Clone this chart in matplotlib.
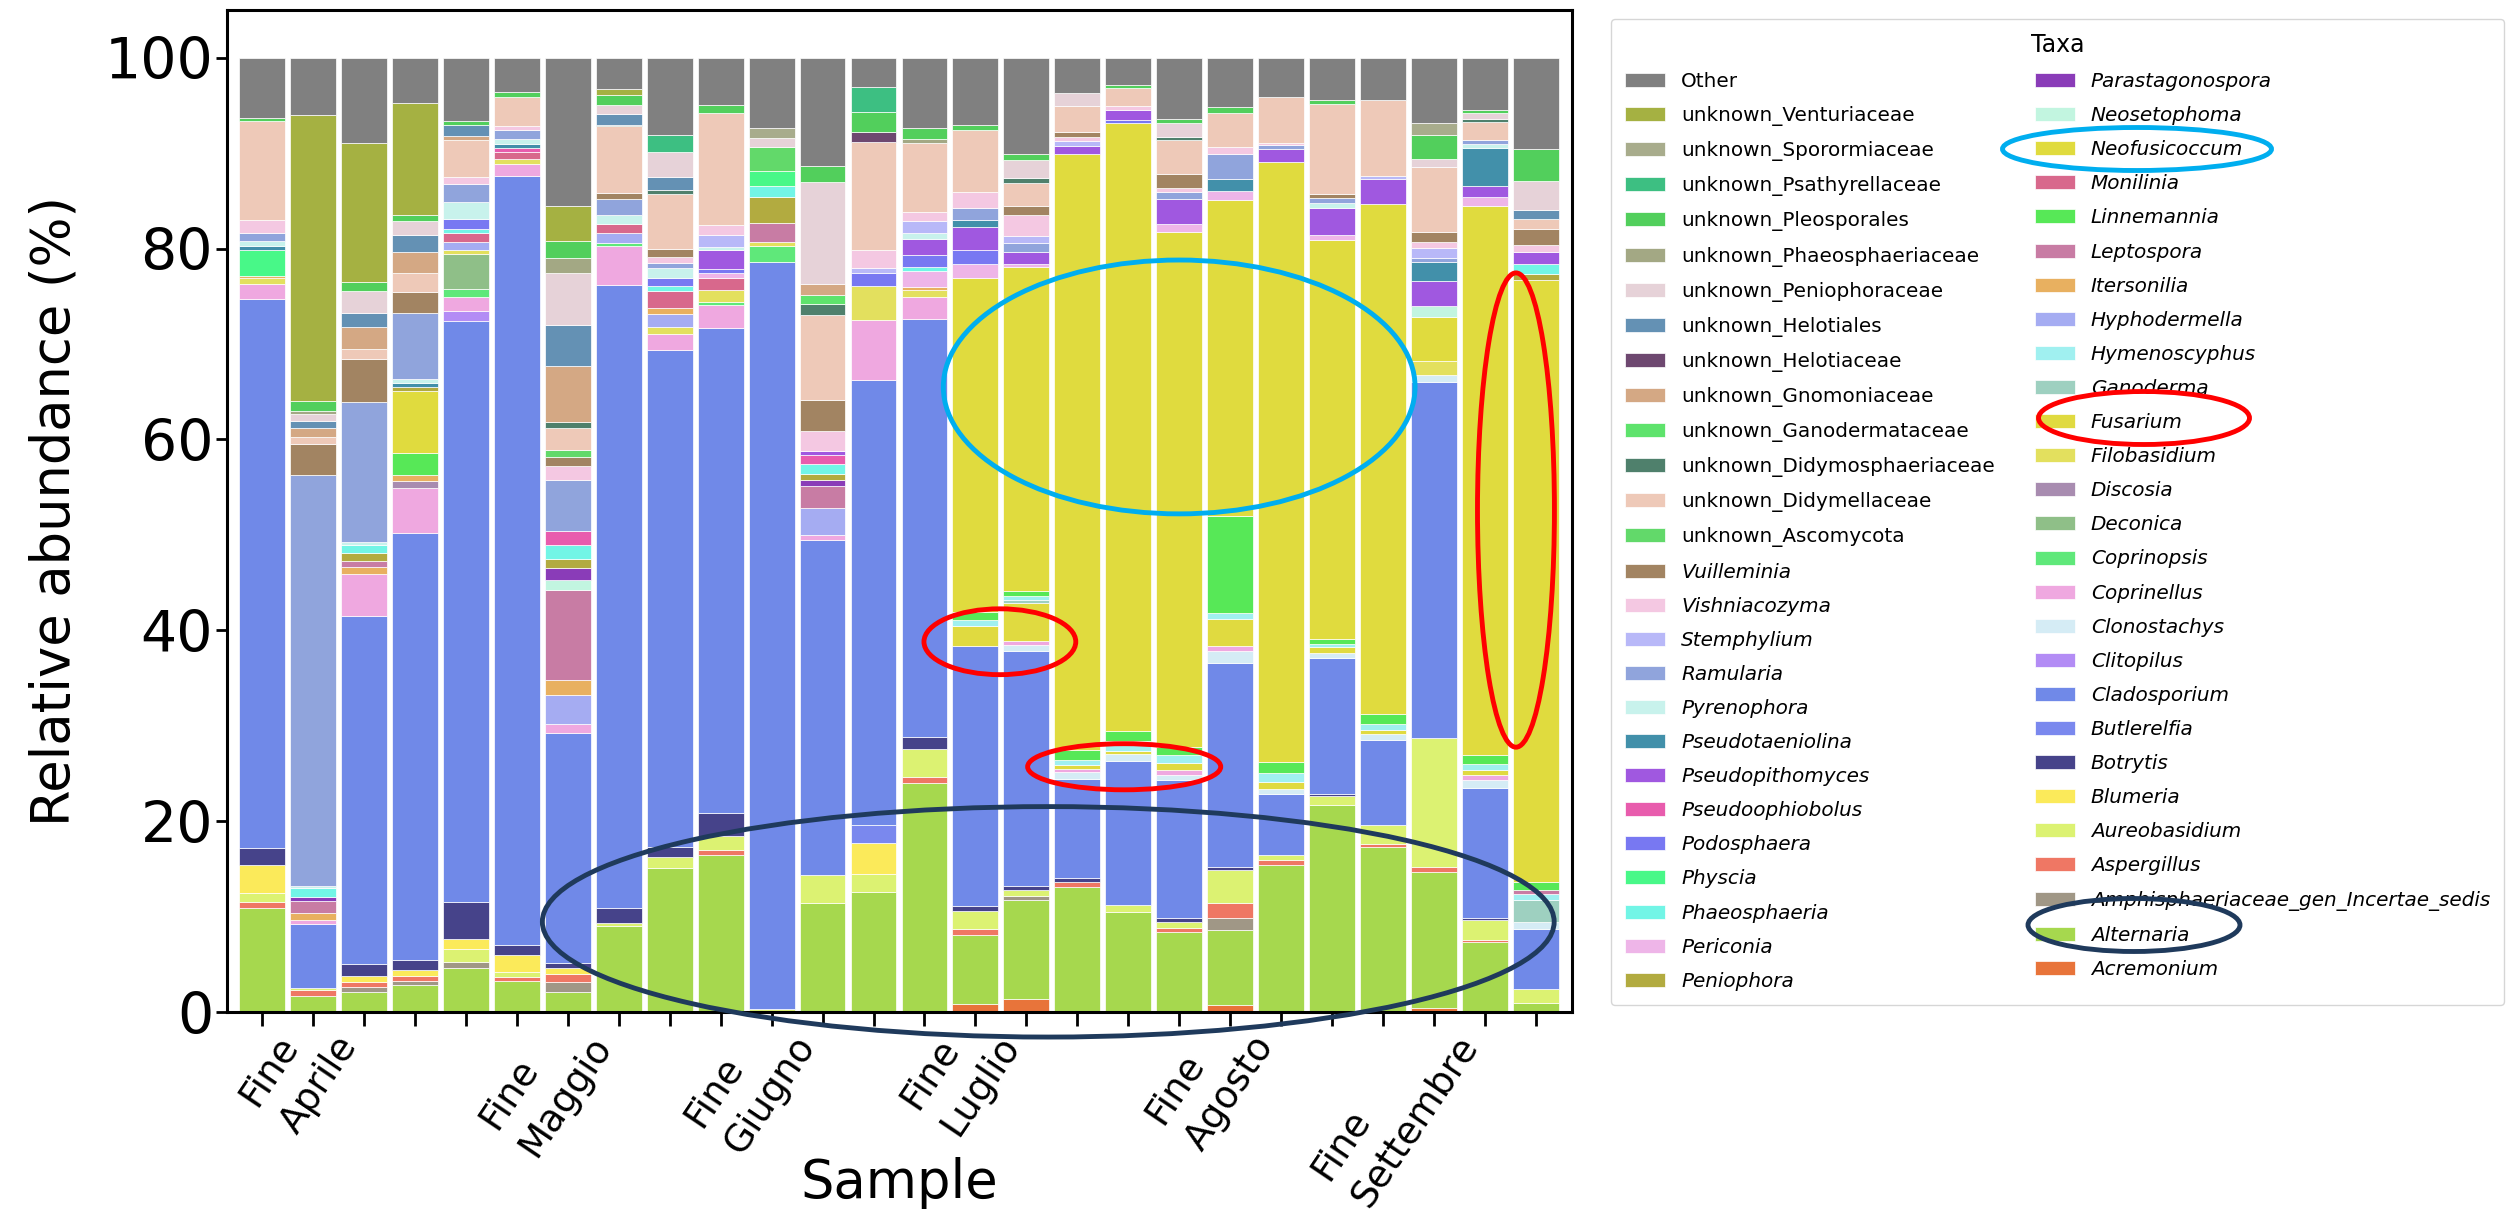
import matplotlib
matplotlib.use("Agg")
import matplotlib.pyplot as plt
from matplotlib.patches import Ellipse
from matplotlib.transforms import ScaledTranslation
import numpy as np
import pandas as pd

# stacking order, bottom -> top (legend shows it reversed)
taxa = ["Acremonium", "Alternaria", "Amphisphaeriaceae_gen_Incertae_sedis", "Aspergillus",
        "Aureobasidium", "Blumeria", "Botrytis", "Butlerelfia", "Cladosporium", "Clitopilus",
        "Clonostachys", "Coprinellus", "Coprinopsis", "Deconica", "Discosia", "Filobasidium",
        "Fusarium", "Ganoderma", "Hymenoscyphus", "Hyphodermella", "Itersonilia", "Leptospora",
        "Linnemannia", "Monilinia", "Neofusicoccum", "Neosetophoma", "Parastagonospora",
        "Peniophora", "Periconia", "Phaeosphaeria", "Physcia", "Podosphaera", "Pseudoophiobolus",
        "Pseudopithomyces", "Pseudotaeniolina", "Pyrenophora", "Ramularia", "Stemphylium",
        "Vishniacozyma", "Vuilleminia", "unknown_Ascomycota", "unknown_Didymellaceae",
        "unknown_Didymosphaeriaceae", "unknown_Ganodermataceae", "unknown_Gnomoniaceae",
        "unknown_Helotiaceae", "unknown_Helotiales", "unknown_Peniophoraceae",
        "unknown_Phaeosphaeriaceae", "unknown_Pleosporales", "unknown_Psathyrellaceae",
        "unknown_Sporormiaceae", "unknown_Venturiaceae", "Other"]

colors = ["#e8743a", "#a6d84e", "#a09786", "#ef7764", "#dcf272", "#fbea5a", "#46438a", "#7a88ee",
          "#7089e8", "#b38cf5", "#d5ecf5", "#efa8e0", "#5fe87a", "#8fbf88", "#a88cb0", "#e3e05e",
          "#e0da40", "#9ed0c0", "#a0f0f0", "#a5acf2", "#e8b060", "#c87ca4", "#57e857", "#d8688c",
          "#e0db3e", "#c2f5e0", "#8a3cb8", "#b2ab40", "#eeb5e8", "#72f5e6", "#48f888", "#7878f2",
          "#e85cad", "#a058e0", "#4290aa", "#c8f2ec", "#90a4dc", "#b8b8f8", "#f4c8e2", "#a28462",
          "#62d96a", "#eec9b8", "#4f806c", "#5ee36c", "#d4a884", "#6e4870", "#6491b4", "#e6d2d8",
          "#a3a884", "#52cf5c", "#3dbf82", "#a8ac8c", "#a5b142", "#808080"]

tick_labels = ["", "", "Fine\nAprile", "", "", "", "", "Fine\nMaggio", "", "", "", "Fine\nGiugno",
               "", "", "", "Fine\nLuglio", "", "", "", "", "Fine\nAgosto", "", "", "",
               "Fine\nSettembre", ""]

# relative abundance (%) per sample
s01 = {"Alternaria": 10.9, "Aspergillus": 0.6, "Aureobasidium": 1.0, "Blumeria": 2.9, "Botrytis": 1.8,
       "Cladosporium": 57.5, "Coprinellus": 1.6, "Filobasidium": 0.6, "Itersonilia": 0.2, "Physcia": 2.8,
       "Pseudotaeniolina": 0.4, "Pyrenophora": 0.5, "Ramularia": 0.8, "Vishniacozyma": 1.4,
       "unknown_Didymellaceae": 10.4, "unknown_Pleosporales": 0.3, "Other": 6.3}
s02 = {"Alternaria": 1.7, "Aspergillus": 0.6, "Aureobasidium": 0.2, "Cladosporium": 6.7, "Coprinellus": 0.4,
       "Itersonilia": 0.8, "Leptospora": 1.2, "Parastagonospora": 0.4, "Phaeosphaeria": 1.0, "Pyrenophora": 0.2,
       "Ramularia": 43.1, "Vuilleminia": 3.2, "unknown_Didymellaceae": 0.8, "unknown_Gnomoniaceae": 0.9,
       "unknown_Helotiales": 0.7, "unknown_Peniophoraceae": 0.8, "unknown_Phaeosphaeriaceae": 0.3,
       "unknown_Pleosporales": 1.0, "unknown_Venturiaceae": 30.0, "Other": 6.0}
s03 = {"Alternaria": 2.1, "Amphisphaeriaceae_gen_Incertae_sedis": 0.5, "Aspergillus": 0.5, "Blumeria": 0.7,
       "Botrytis": 1.2, "Cladosporium": 36.5, "Coprinellus": 4.4, "Itersonilia": 0.7, "Leptospora": 0.7,
       "Peniophora": 0.8, "Phaeosphaeria": 0.8, "Pyrenophora": 0.3, "Ramularia": 14.7, "Vuilleminia": 4.5,
       "unknown_Didymellaceae": 1.1, "unknown_Gnomoniaceae": 2.3, "unknown_Helotiales": 1.5,
       "unknown_Peniophoraceae": 2.3, "unknown_Pleosporales": 0.9, "unknown_Venturiaceae": 14.6, "Other": 8.9}
s04 = {"Alternaria": 2.8, "Amphisphaeriaceae_gen_Incertae_sedis": 0.5, "Aspergillus": 0.5, "Blumeria": 0.6,
       "Botrytis": 1.0, "Cladosporium": 44.8, "Coprinellus": 4.7, "Discosia": 0.7, "Itersonilia": 0.7,
       "Linnemannia": 2.3, "Neofusicoccum": 6.5, "Peniophora": 0.4, "Pseudotaeniolina": 0.4, "Pyrenophora": 0.4,
       "Ramularia": 7.0, "Vuilleminia": 2.2, "unknown_Didymellaceae": 1.9, "unknown_Gnomoniaceae": 2.2,
       "unknown_Helotiales": 1.8, "unknown_Peniophoraceae": 1.5, "unknown_Pleosporales": 0.6,
       "unknown_Venturiaceae": 11.8, "Other": 4.7}
s05 = {"Alternaria": 4.6, "Amphisphaeriaceae_gen_Incertae_sedis": 0.6, "Aureobasidium": 1.4, "Blumeria": 1.1,
       "Botrytis": 3.8, "Cladosporium": 60.9, "Clitopilus": 1.1, "Coprinellus": 1.4, "Coprinopsis": 0.9,
       "Deconica": 3.6, "Filobasidium": 0.5, "Hyphodermella": 0.8, "Monilinia": 0.9, "Phaeosphaeria": 0.5,
       "Podosphaera": 1.0, "Pyrenophora": 1.8, "Ramularia": 1.9, "Vishniacozyma": 0.7,
       "unknown_Didymellaceae": 3.9, "unknown_Gnomoniaceae": 0.4, "unknown_Helotiales": 1.2,
       "unknown_Pleosporales": 0.4, "Other": 6.6}
s06 = {"Alternaria": 3.3, "Aspergillus": 0.4, "Aureobasidium": 0.5, "Blumeria": 1.8, "Botrytis": 1.0,
       "Cladosporium": 80.6, "Coprinellus": 1.3, "Filobasidium": 0.5, "Monilinia": 0.7, "Pseudoophiobolus": 0.4,
       "Pseudotaeniolina": 0.5, "Pyrenophora": 0.5, "Ramularia": 0.9, "Vishniacozyma": 0.4,
       "unknown_Didymellaceae": 3.1, "unknown_Pleosporales": 0.5, "Other": 3.6}
s07 = {"Alternaria": 2.1, "Amphisphaeriaceae_gen_Incertae_sedis": 1.0, "Aspergillus": 0.9, "Blumeria": 0.6,
       "Botrytis": 0.5, "Cladosporium": 24.1, "Coprinellus": 1.0, "Hyphodermella": 3.0, "Itersonilia": 1.6,
       "Leptospora": 9.4, "Neosetophoma": 1.1, "Parastagonospora": 1.2, "Peniophora": 1.0, "Phaeosphaeria": 1.4,
       "Pseudoophiobolus": 1.5, "Ramularia": 5.3, "Vishniacozyma": 1.5, "Vuilleminia": 1.0,
       "unknown_Ascomycota": 0.7, "unknown_Didymellaceae": 2.3, "unknown_Didymosphaeriaceae": 0.6,
       "unknown_Gnomoniaceae": 5.9, "unknown_Helotiales": 4.3, "unknown_Peniophoraceae": 5.4,
       "unknown_Phaeosphaeriaceae": 1.6, "unknown_Pleosporales": 1.8, "unknown_Venturiaceae": 3.7, "Other": 15.5}
s08 = {"Alternaria": 9.0, "Aureobasidium": 0.3, "Botrytis": 1.6, "Cladosporium": 65.3, "Coprinellus": 4.1,
       "Coprinopsis": 0.3, "Hyphodermella": 1.0, "Monilinia": 1.0, "Pyrenophora": 0.9, "Ramularia": 1.7,
       "Vuilleminia": 0.6, "unknown_Didymellaceae": 7.0, "unknown_Didymosphaeriaceae": 0.2,
       "unknown_Helotiales": 1.1, "unknown_Peniophoraceae": 0.9, "unknown_Pleosporales": 1.1,
       "unknown_Venturiaceae": 0.6, "Other": 3.3}
s09 = {"Alternaria": 15.1, "Aureobasidium": 1.1, "Botrytis": 1.1, "Cladosporium": 52.1, "Coprinellus": 1.7,
       "Filobasidium": 0.7, "Hyphodermella": 1.3, "Itersonilia": 0.7, "Monilinia": 1.8, "Phaeosphaeria": 0.5,
       "Podosphaera": 0.8, "Pyrenophora": 1.1, "Ramularia": 0.5, "Vishniacozyma": 0.6, "Vuilleminia": 0.9,
       "unknown_Didymellaceae": 5.7, "unknown_Didymosphaeriaceae": 0.4, "unknown_Helotiales": 1.4,
       "unknown_Peniophoraceae": 2.6, "unknown_Psathyrellaceae": 1.8, "Other": 8.1}
s10 = {"Alternaria": 16.5, "Aspergillus": 0.5, "Aureobasidium": 1.4, "Botrytis": 2.5, "Cladosporium": 50.8,
       "Coprinellus": 2.4, "Coprinopsis": 0.3, "Filobasidium": 1.3, "Monilinia": 1.2, "Periconia": 0.5,
       "Podosphaera": 0.5, "Pseudopithomyces": 1.9, "Pyrenophora": 0.4, "Stemphylium": 1.2, "Vishniacozyma": 1.1,
       "unknown_Didymellaceae": 11.7, "unknown_Pleosporales": 0.8, "Other": 5.0}
s11 = {"Aureobasidium": 0.3, "Cladosporium": 78.3, "Coprinopsis": 1.7, "Filobasidium": 0.4, "Leptospora": 2.0,
       "Peniophora": 2.7, "Phaeosphaeria": 1.2, "Physcia": 1.5, "unknown_Ascomycota": 2.5,
       "unknown_Peniophoraceae": 1.0, "unknown_Sporormiaceae": 1.0, "Other": 7.4}
s12 = {"Alternaria": 11.4, "Aureobasidium": 3.0, "Cladosporium": 35.1, "Coprinellus": 0.5, "Hyphodermella": 2.8,
       "Leptospora": 2.3, "Parastagonospora": 0.6, "Peniophora": 0.7, "Phaeosphaeria": 1.0,
       "Pseudoophiobolus": 1.0, "Pseudopithomyces": 0.4, "Vishniacozyma": 2.1, "Vuilleminia": 3.2,
       "unknown_Didymellaceae": 8.9, "unknown_Didymosphaeriaceae": 1.2, "unknown_Ganodermataceae": 0.9,
       "unknown_Gnomoniaceae": 1.2, "unknown_Peniophoraceae": 10.7, "unknown_Pleosporales": 1.7, "Other": 11.3}
s13 = {"Alternaria": 12.6, "Aureobasidium": 1.9, "Blumeria": 3.2, "Butlerelfia": 1.9, "Cladosporium": 46.6,
       "Coprinellus": 6.3, "Filobasidium": 3.6, "Podosphaera": 1.3, "Stemphylium": 0.6, "Vishniacozyma": 1.9,
       "unknown_Didymellaceae": 11.3, "unknown_Helotiaceae": 1.0, "unknown_Pleosporales": 2.1,
       "unknown_Psathyrellaceae": 2.6, "Other": 3.1}
s14 = {"Alternaria": 24.0, "Aspergillus": 0.6, "Aureobasidium": 3.0, "Botrytis": 1.2, "Cladosporium": 43.8,
       "Coprinellus": 2.3, "Filobasidium": 0.8, "Itersonilia": 0.3, "Periconia": 1.7, "Phaeosphaeria": 0.4,
       "Podosphaera": 1.2, "Pseudopithomyces": 1.7, "Pyrenophora": 0.6, "Stemphylium": 1.3, "Vishniacozyma": 0.9,
       "unknown_Didymellaceae": 7.3, "unknown_Phaeosphaeriaceae": 0.4, "unknown_Pleosporales": 1.1, "Other": 7.4}
s15 = {"Acremonium": 0.8, "Alternaria": 7.3, "Aspergillus": 0.6, "Aureobasidium": 1.9, "Botrytis": 0.5,
       "Cladosporium": 27.3, "Fusarium": 2.0, "Hymenoscyphus": 0.7, "Linnemannia": 0.8, "Neofusicoccum": 35.0,
       "Periconia": 1.5, "Podosphaera": 1.5, "Pseudopithomyces": 2.4, "Pseudotaeniolina": 0.7, "Ramularia": 1.2,
       "Vishniacozyma": 1.7, "unknown_Didymellaceae": 6.5, "unknown_Pleosporales": 0.5, "Other": 7.1}
s16 = {"Acremonium": 1.4, "Alternaria": 10.3, "Amphisphaeriaceae_gen_Incertae_sedis": 0.5, "Aureobasidium": 0.6,
       "Botrytis": 0.4, "Cladosporium": 24.6, "Clonostachys": 0.7, "Coprinellus": 0.4, "Fusarium": 4.0,
       "Ganoderma": 0.3, "Hymenoscyphus": 0.4, "Linnemannia": 0.5, "Neofusicoccum": 34.0, "Periconia": 0.3,
       "Pseudopithomyces": 1.2, "Ramularia": 1.0, "Stemphylium": 0.7, "Vishniacozyma": 2.2, "Vuilleminia": 1.0,
       "unknown_Didymellaceae": 2.4, "unknown_Didymosphaeriaceae": 0.5, "unknown_Peniophoraceae": 1.9,
       "unknown_Pleosporales": 0.6, "Other": 10.1}
s17 = {"Alternaria": 13.1, "Aspergillus": 0.5, "Botrytis": 0.4, "Cladosporium": 10.4, "Clonostachys": 0.7,
       "Coprinellus": 0.4, "Fusarium": 0.4, "Hymenoscyphus": 0.5, "Linnemannia": 1.1, "Neofusicoccum": 62.4,
       "Pseudopithomyces": 0.9, "Stemphylium": 0.5, "Vishniacozyma": 0.4, "Vuilleminia": 0.5,
       "unknown_Didymellaceae": 2.7, "unknown_Peniophoraceae": 1.4, "Other": 3.7}
s18 = {"Alternaria": 10.5, "Aureobasidium": 0.7, "Cladosporium": 15.1, "Clonostachys": 0.7, "Fusarium": 0.3,
       "Hymenoscyphus": 1.1, "Linnemannia": 1.0, "Neofusicoccum": 63.8, "Podosphaera": 0.3,
       "Pseudopithomyces": 1.0, "Vishniacozyma": 0.4, "unknown_Didymellaceae": 1.9, "unknown_Pleosporales": 0.3,
       "Other": 2.9}
s19 = {"Alternaria": 8.4, "Aspergillus": 0.4, "Aureobasidium": 0.6, "Botrytis": 0.4, "Cladosporium": 14.5,
       "Clonostachys": 0.5, "Coprinellus": 0.6, "Fusarium": 0.7, "Hymenoscyphus": 0.8, "Linnemannia": 0.9,
       "Neofusicoccum": 53.9, "Periconia": 0.9, "Pseudopithomyces": 2.6, "Ramularia": 0.7, "Vishniacozyma": 0.4,
       "Vuilleminia": 1.5, "unknown_Didymellaceae": 3.6, "unknown_Didymosphaeriaceae": 0.3,
       "unknown_Peniophoraceae": 1.5, "unknown_Pleosporales": 0.4, "Other": 6.4}
s20 = {"Acremonium": 0.7, "Alternaria": 7.9, "Amphisphaeriaceae_gen_Incertae_sedis": 1.2, "Aspergillus": 1.6,
       "Aureobasidium": 3.5, "Botrytis": 0.3, "Cladosporium": 21.4, "Clonostachys": 1.2, "Coprinellus": 0.6,
       "Fusarium": 2.8, "Hymenoscyphus": 0.6, "Linnemannia": 10.2, "Neofusicoccum": 33.1, "Periconia": 0.9,
       "Pseudotaeniolina": 1.3, "Ramularia": 2.6, "Vishniacozyma": 0.7, "unknown_Didymellaceae": 3.6,
       "unknown_Pleosporales": 0.6, "Other": 5.2}
s21 = {"Alternaria": 15.4, "Aspergillus": 0.5, "Aureobasidium": 0.5, "Cladosporium": 6.4, "Clonostachys": 0.6,
       "Fusarium": 0.7, "Hymenoscyphus": 0.9, "Linnemannia": 1.2, "Neofusicoccum": 62.9, "Pseudopithomyces": 1.3,
       "Ramularia": 0.5, "Vishniacozyma": 0.2, "unknown_Didymellaceae": 4.8, "Other": 4.1}
s22 = {"Alternaria": 21.7, "Aureobasidium": 0.9, "Botrytis": 0.2, "Cladosporium": 14.3, "Clonostachys": 0.5,
       "Fusarium": 0.6, "Hymenoscyphus": 0.4, "Linnemannia": 0.5, "Neofusicoccum": 41.8, "Periconia": 0.5,
       "Pseudopithomyces": 2.9, "Pyrenophora": 0.5, "Ramularia": 0.5, "Vuilleminia": 0.4,
       "unknown_Didymellaceae": 9.5, "unknown_Pleosporales": 0.4, "Other": 4.4}
s23 = {"Alternaria": 17.3, "Aspergillus": 0.3, "Aureobasidium": 2.0, "Cladosporium": 8.9, "Clonostachys": 0.6,
       "Fusarium": 0.5, "Hymenoscyphus": 0.6, "Linnemannia": 1.0, "Neofusicoccum": 53.5, "Pseudopithomyces": 2.6,
       "Stemphylium": 0.3, "unknown_Didymellaceae": 8.0, "Other": 4.4}
s24 = {"Acremonium": 0.4, "Alternaria": 14.3, "Aspergillus": 0.5, "Aureobasidium": 13.5, "Cladosporium": 37.3,
       "Clonostachys": 0.7, "Filobasidium": 1.5, "Neofusicoccum": 4.6, "Neosetophoma": 1.2,
       "Pseudopithomyces": 2.6, "Pseudotaeniolina": 2.0, "Ramularia": 0.4, "Stemphylium": 1.1,
       "Vishniacozyma": 0.6, "Vuilleminia": 1.0, "unknown_Didymellaceae": 6.9, "unknown_Peniophoraceae": 0.8,
       "unknown_Pleosporales": 2.5, "unknown_Sporormiaceae": 1.3, "Other": 6.8}
s25 = {"Alternaria": 7.3, "Aspergillus": 0.2, "Aureobasidium": 2.1, "Botrytis": 0.3, "Cladosporium": 13.6,
       "Clonostachys": 0.8, "Coprinellus": 0.5, "Fusarium": 0.6, "Hymenoscyphus": 0.6, "Linnemannia": 0.9,
       "Neofusicoccum": 57.6, "Periconia": 0.9, "Pseudopithomyces": 1.2, "Pseudotaeniolina": 3.9,
       "Pyrenophora": 0.5, "Ramularia": 0.4, "unknown_Didymellaceae": 1.9, "unknown_Didymosphaeriaceae": 0.3,
       "unknown_Peniophoraceae": 0.6, "unknown_Pleosporales": 0.3, "Other": 5.5}
s26 = {"Alternaria": 0.9, "Aureobasidium": 1.5, "Cladosporium": 6.3, "Clonostachys": 0.7, "Ganoderma": 2.3,
       "Hymenoscyphus": 0.7, "Leptospora": 0.4, "Linnemannia": 0.8, "Neofusicoccum": 63.1, "Peniophora": 0.6,
       "Phaeosphaeria": 1.1, "Pseudopithomyces": 1.2, "Vishniacozyma": 0.8, "Vuilleminia": 1.6,
       "unknown_Didymellaceae": 1.1, "unknown_Helotiales": 0.9, "unknown_Peniophoraceae": 3.1,
       "unknown_Pleosporales": 3.3, "Other": 9.6}

samples = [s01, s02, s03, s04, s05, s06, s07, s08, s09, s10, s11, s12, s13,
           s14, s15, s16, s17, s18, s19, s20, s21, s22, s23, s24, s25, s26]

df = pd.DataFrame(samples, columns=taxa).fillna(0.0)
df = df.div(df.sum(axis=1), axis=0) * 100

W, H = 2506, 1209
fig = plt.figure(figsize=(W / 100, H / 100), dpi=100)
ax = fig.add_axes([227 / W, 1 - 1012 / H, (1572 - 227) / W, (1012 - 10) / H])

x = np.arange(len(df))
base = np.zeros(len(df))
for name, col in zip(taxa, colors):
    h = df[name].to_numpy()
    m = h > 0
    ax.bar(x[m], h[m], width=0.9, bottom=base[m], color=col,
           edgecolor="white", linewidth=0.5, label=name)
    base += h

ax.set_xlim(-0.69, 25.71)
ax.set_ylim(0, 105)
ax.set_yticks([0, 20, 40, 60, 80, 100])
ax.set_xticks(x)
ax.set_xticklabels(tick_labels, rotation=56, ha="right", multialignment="left",
                   linespacing=1.45, fontsize=27)
shift = ScaledTranslation(0.17, 0, fig.dpi_scale_trans)
for lbl in ax.get_xticklabels():
    lbl.set_transform(lbl.get_transform() + shift)
ax.tick_params(axis="y", labelsize=41, length=8, width=2, pad=2)
ax.tick_params(axis="x", length=10, width=2, pad=-17)
for s in ax.spines.values():
    s.set_linewidth(2.2)

ax.set_ylabel("Relative abundance (%)", fontsize=38)
ax.yaxis.set_label_coords(-0.109, 0.5)
ax.set_xlabel("Sample", fontsize=38)
ax.xaxis.set_label_coords(0.5, -0.145)

handles, labels = ax.get_legend_handles_labels()
leg = ax.legend(handles[::-1], labels[::-1], ncol=2, title="Taxa", fontsize=14.4, title_fontsize=17,
                loc="upper left", bbox_to_anchor=(1611 / W, 1 - 19 / H), bbox_transform=fig.transFigure,
                borderaxespad=0, borderpad=0.7, labelspacing=0.755)
for t in leg.get_texts():
    if t.get_text() != "Other" and not t.get_text().startswith("unknown_"):
        t.set_fontstyle("italic")

# highlight rings drawn on the chart (data coords)
rings = [((18.0, 65.5), 9.26, 26.6, "#00aeef"),
         ((14.48, 38.8), 2.98, 6.9, "#ff0000"),
         ((16.92, 25.7), 3.79, 4.83, "#ff0000"),
         ((24.61, 52.6), 1.51, 49.7, "#ff0000"),
         ((15.43, 9.45), 19.86, 24.15, "#1f3a5c")]
for c, w, hgt, col in rings:
    ax.add_patch(Ellipse(c, w, hgt, fill=False, edgecolor=col, linewidth=3.5, clip_on=False, zorder=5))

# rings on the legend (figure pixels)
legend_rings = [(2137, 149, 269, 43, "#00aeef"),
                (2144, 418, 211, 53, "#ff0000"),
                (2134, 925, 212, 53, "#1f3a5c")]
for cx, cy, w, hgt, col in legend_rings:
    fig.add_artist(Ellipse((cx / W, 1 - cy / H), w / W, hgt / H, transform=fig.transFigure,
                           fill=False, edgecolor=col, linewidth=3.5, zorder=10))

fig.savefig("out.png", dpi=100)
